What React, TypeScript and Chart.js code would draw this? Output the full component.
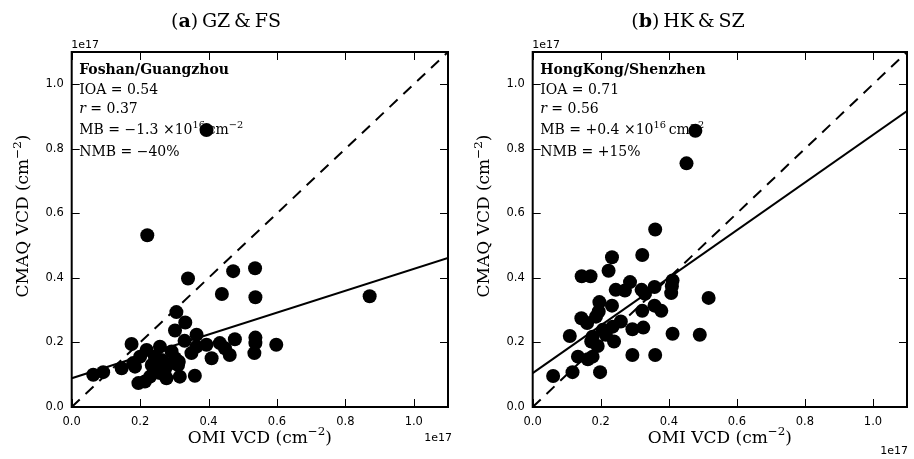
import React, { useEffect, useRef } from "react";
import { Chart, registerables } from "chart.js";
Chart.register(...registerables);

// ---------- data (units of 1e17 molecules cm^-2) ----------
const tickValues = [0, 0.2, 0.4, 0.6, 0.8, 1.0];
const tickLabels = ["0.0", "0.2", "0.4", "0.6", "0.8", "1.0"];
const axisMin = 0;
const axisMax = 1.1;

const gzOmi = [
  0.394, 0.221, 0.34, 0.472, 0.536, 0.439, 0.537, 0.871, 0.306, 0.332,
  0.302, 0.33, 0.365, 0.365, 0.35, 0.394, 0.409, 0.433, 0.448, 0.462,
  0.477, 0.537, 0.537, 0.534, 0.598, 0.36, 0.316, 0.277, 0.195, 0.214,
  0.229, 0.258, 0.272, 0.311, 0.302, 0.292, 0.263, 0.234, 0.243, 0.258,
  0.219, 0.2, 0.18, 0.146, 0.092, 0.063, 0.175, 0.185, 0.313, 0.28, 0.24,
];
const gzCmaq = [
  0.858, 0.532, 0.398, 0.421, 0.43, 0.35, 0.34, 0.343, 0.294, 0.262,
  0.237, 0.205, 0.224, 0.187, 0.167, 0.193, 0.151, 0.198, 0.182, 0.161,
  0.21, 0.215, 0.198, 0.167, 0.193, 0.097, 0.094, 0.089, 0.074, 0.079,
  0.094, 0.105, 0.115, 0.13, 0.151, 0.172, 0.146, 0.13, 0.156, 0.187,
  0.177, 0.156, 0.136, 0.12, 0.108, 0.1, 0.195, 0.125, 0.14, 0.13, 0.115,
];
const gzFit = [0.089, 0.339]; // intercept, slope

const hkOmi = [
  0.478, 0.452, 0.36, 0.322, 0.233, 0.223, 0.144, 0.17, 0.286, 0.244,
  0.271, 0.32, 0.358, 0.33, 0.411, 0.409, 0.407, 0.517, 0.196, 0.233,
  0.358, 0.378, 0.322, 0.194, 0.186, 0.143, 0.16, 0.259, 0.235, 0.206,
  0.293, 0.325, 0.411, 0.491, 0.109, 0.176, 0.215, 0.239, 0.172, 0.191,
  0.293, 0.36, 0.133, 0.176, 0.162, 0.117, 0.198, 0.06,
];
const hkCmaq = [
  0.856, 0.755, 0.55, 0.471, 0.464, 0.422, 0.405, 0.405, 0.387, 0.363,
  0.361, 0.363, 0.372, 0.351, 0.392, 0.374, 0.353, 0.338, 0.325, 0.314,
  0.314, 0.298, 0.298, 0.296, 0.28, 0.275, 0.26, 0.265, 0.249, 0.239,
  0.241, 0.246, 0.227, 0.224, 0.22, 0.218, 0.224, 0.203, 0.203, 0.189,
  0.161, 0.161, 0.156, 0.156, 0.148, 0.108, 0.108, 0.096,
];
const hkFit = [0.105, 0.738];

const gzTitle = [["(", "n"], ["a", "b"], [")\u2009GZ\u2009&\u2009FS", "n"]];
const hkTitle = [["(", "n"], ["b", "b"], [")\u2009HK\u2009&\u2009SZ", "n"]];

const gzStats = [
  [["Foshan/Guangzhou", "b"]],
  [["IOA = 0.54", "n"]],
  [["r", "i"], [" = 0.37", "n"]],
  [["MB = \u22121.3 \u00d710", "n"], ["16", "s"], ["\u2009cm", "n"], ["\u22122", "s"]],
  [["NMB = \u221240%", "n"]],
];
const hkStats = [
  [["HongKong/Shenzhen", "b"]],
  [["IOA = 0.71", "n"]],
  [["r", "i"], [" = 0.56", "n"]],
  [["MB = +0.4 \u00d710", "n"], ["16", "s"], ["\u2009cm", "n"], ["\u22122", "s"]],
  [["NMB = +15%", "n"]],
];
const xLabel = [["OMI VCD (cm", "n"], ["\u22122", "s"], [")", "n"]];
const yLabel = [["CMAQ VCD (cm", "n"], ["\u22122", "s"], [")", "n"]];
const offsetText = "1e17";

// ---------- drawing helpers ----------
const SERIF = "'DejaVu Serif', serif";
const SANS = "'DejaVu Sans', sans-serif";

type Seg = string[];
function fontFor(kind: string, size: number) {
  if (kind === "b") return `bold ${size}px ${SERIF}`;
  if (kind === "i") return `italic ${size}px ${SERIF}`;
  if (kind === "s") return `${size * 0.7}px ${SERIF}`;
  return `${size}px ${SERIF}`;
}
function richWidth(ctx: CanvasRenderingContext2D, segs: Seg[], size: number) {
  let w = 0;
  for (const [t, k] of segs) {
    ctx.font = fontFor(k, size);
    w += ctx.measureText(t).width;
  }
  return w;
}
function drawRich(ctx: CanvasRenderingContext2D, segs: Seg[], x: number, y: number, size: number) {
  let cx = x;
  ctx.textAlign = "left";
  ctx.textBaseline = "alphabetic";
  for (const [t, k] of segs) {
    ctx.font = fontFor(k, size);
    const dy = k === "s" ? -size * 0.42 : 0;
    ctx.fillText(t, cx, y + dy);
    cx += ctx.measureText(t).width;
  }
}

type PanelCfg = {
  left: number;
  yWidth: number;
  padRight: number;
  omi: number[];
  cmaq: number[];
  fit: number[];
  title: Seg[];
  titleX: number;
  stats: Seg[][];
  yLabelX: number;
  bottomOffsetBaseline: number;
  bottomOffsetDx: number;
};

const W = 457;
const H = 459;
const TOP = 52;
const XH = 52;

function makePlugin(cfg: PanelCfg) {
  return {
    id: "decor",
    beforeDatasetsDraw(chart: any) {
      const ctx = chart.ctx as CanvasRenderingContext2D;
      const a = chart.chartArea;
      ctx.save();
      ctx.fillStyle = "#000";
      const bases = [73.5, 93.5, 113, 134, 156];
      cfg.stats.forEach((line, i) => drawRich(ctx, line, a.left + 7.5, bases[i], 14));
      ctx.restore();
    },
    afterDraw(chart: any) {
      const ctx = chart.ctx as CanvasRenderingContext2D;
      const a = chart.chartArea;
      const xs = chart.scales.x;
      const ys = chart.scales.y;
      ctx.save();
      ctx.strokeStyle = "#000";
      ctx.fillStyle = "#000";
      // inward ticks on all four sides
      ctx.lineWidth = 1;
      ctx.beginPath();
      for (const v of tickValues) {
        const px = Math.round(xs.getPixelForValue(v)) + 0.5;
        ctx.moveTo(px, a.bottom);
        ctx.lineTo(px, a.bottom - 8);
        ctx.moveTo(px, a.top);
        ctx.lineTo(px, a.top + 8);
        const py = Math.round(ys.getPixelForValue(v)) + 0.5;
        ctx.moveTo(a.left, py);
        ctx.lineTo(a.left + 8, py);
        ctx.moveTo(a.right, py);
        ctx.lineTo(a.right - 8, py);
      }
      ctx.stroke();
      // frame
      ctx.lineWidth = 2;
      ctx.strokeRect(a.left, a.top, a.right - a.left, a.bottom - a.top);
      // title
      const tw = richWidth(ctx, cfg.title, 19);
      drawRich(ctx, cfg.title, cfg.titleX - tw / 2, 26.5, 19);
      // x label
      const xw = richWidth(ctx, xLabel, 17);
      drawRich(ctx, xLabel, (a.left + a.right) / 2 - xw / 2, 442.5, 17);
      // y label
      const yw = richWidth(ctx, yLabel, 17);
      ctx.save();
      ctx.translate(cfg.yLabelX, 216);
      ctx.rotate(-Math.PI / 2);
      drawRich(ctx, yLabel, -yw / 2, 6, 17);
      ctx.restore();
      // offset texts
      ctx.font = `11px ${SANS}`;
      ctx.textBaseline = "alphabetic";
      ctx.textAlign = "left";
      ctx.fillText(offsetText, a.left - 0.5, 48);
      ctx.textAlign = "right";
      ctx.fillText(offsetText, a.right + cfg.bottomOffsetDx, cfg.bottomOffsetBaseline);
      ctx.restore();
    },
  };
}

function Panel({ cfg }: { cfg: PanelCfg }) {
  const ref = useRef<HTMLCanvasElement | null>(null);
  useEffect(() => {
    if (!ref.current) return;
    const pts = cfg.omi.map((x, i) => ({ x, y: cfg.cmaq[i] }));
    const [b0, b1] = cfg.fit;
    const tickFont = { family: SANS, size: 11.5 };
    const chart = new Chart(ref.current, {
      type: "scatter",
      data: {
        datasets: [
          {
            type: "line",
            data: [{ x: axisMin, y: axisMin }, { x: axisMax, y: axisMax }],
            borderColor: "#000",
            borderWidth: 2,
            borderDash: [11, 8],
            pointRadius: 0,
            fill: false,
          },
          {
            type: "line",
            data: [{ x: axisMin, y: b0 + b1 * axisMin }, { x: axisMax, y: b0 + b1 * axisMax }],
            borderColor: "#000",
            borderWidth: 2,
            pointRadius: 0,
            fill: false,
          },
          {
            data: pts,
            backgroundColor: "#000",
            borderColor: "#000",
            borderWidth: 0,
            pointRadius: 7,
          },
        ],
      } as any,
      options: {
        animation: false,
        responsive: false,
        maintainAspectRatio: false,
        devicePixelRatio: 1,
        events: [],
        layout: { padding: { top: TOP, right: cfg.padRight, left: 0, bottom: 0 } },
        plugins: { legend: { display: false }, tooltip: { enabled: false }, title: { display: false } },
        scales: {
          x: {
            type: "linear",
            min: axisMin,
            max: axisMax,
            grid: { display: false, drawTicks: false },
            border: { display: false },
            afterBuildTicks: (s: any) => {
              s.ticks = tickValues.map((v) => ({ value: v }));
            },
            afterFit: (s: any) => {
              s.height = XH;
            },
            ticks: {
              autoSkip: false,
              maxRotation: 0,
              padding: 8,
              color: "#000",
              font: tickFont,
              callback: (_v: any, i: number) => tickLabels[i],
            },
          },
          y: {
            type: "linear",
            min: axisMin,
            max: axisMax,
            grid: { display: false, drawTicks: false },
            border: { display: false },
            afterBuildTicks: (s: any) => {
              s.ticks = tickValues.map((v) => ({ value: v }));
            },
            afterFit: (s: any) => {
              s.width = cfg.yWidth;
            },
            ticks: {
              autoSkip: false,
              padding: 8,
              color: "#000",
              font: tickFont,
              callback: (_v: any, i: number) => tickLabels[i],
            },
          },
        },
      } as any,
      plugins: [makePlugin(cfg)],
    });
    return () => chart.destroy();
  }, [cfg]);
  return (
    <canvas
      ref={ref}
      width={W}
      height={H}
      style={{ position: "absolute", left: cfg.left, top: 0, width: W, height: H }}
    />
  );
}

const leftCfg: PanelCfg = {
  left: 0,
  yWidth: 71.7,
  padRight: 9,
  omi: gzOmi,
  cmaq: gzCmaq,
  fit: gzFit,
  title: gzTitle,
  titleX: 226,
  stats: gzStats,
  yLabelX: 22,
  bottomOffsetBaseline: 441,
  bottomOffsetDx: 4,
};
const rightCfg: PanelCfg = {
  left: 457,
  yWidth: 75.7,
  padRight: 3,
  omi: hkOmi,
  cmaq: hkCmaq,
  fit: hkFit,
  title: hkTitle,
  titleX: 231,
  stats: hkStats,
  yLabelX: 25.7,
  bottomOffsetBaseline: 454,
  bottomOffsetDx: 1,
};

export default function App() {
  return (
    <div style={{ position: "fixed", left: 0, top: 0, width: 914, height: 459, background: "#fff", overflow: "hidden" }}>
      <Panel cfg={leftCfg} />
      <Panel cfg={rightCfg} />
    </div>
  );
}
